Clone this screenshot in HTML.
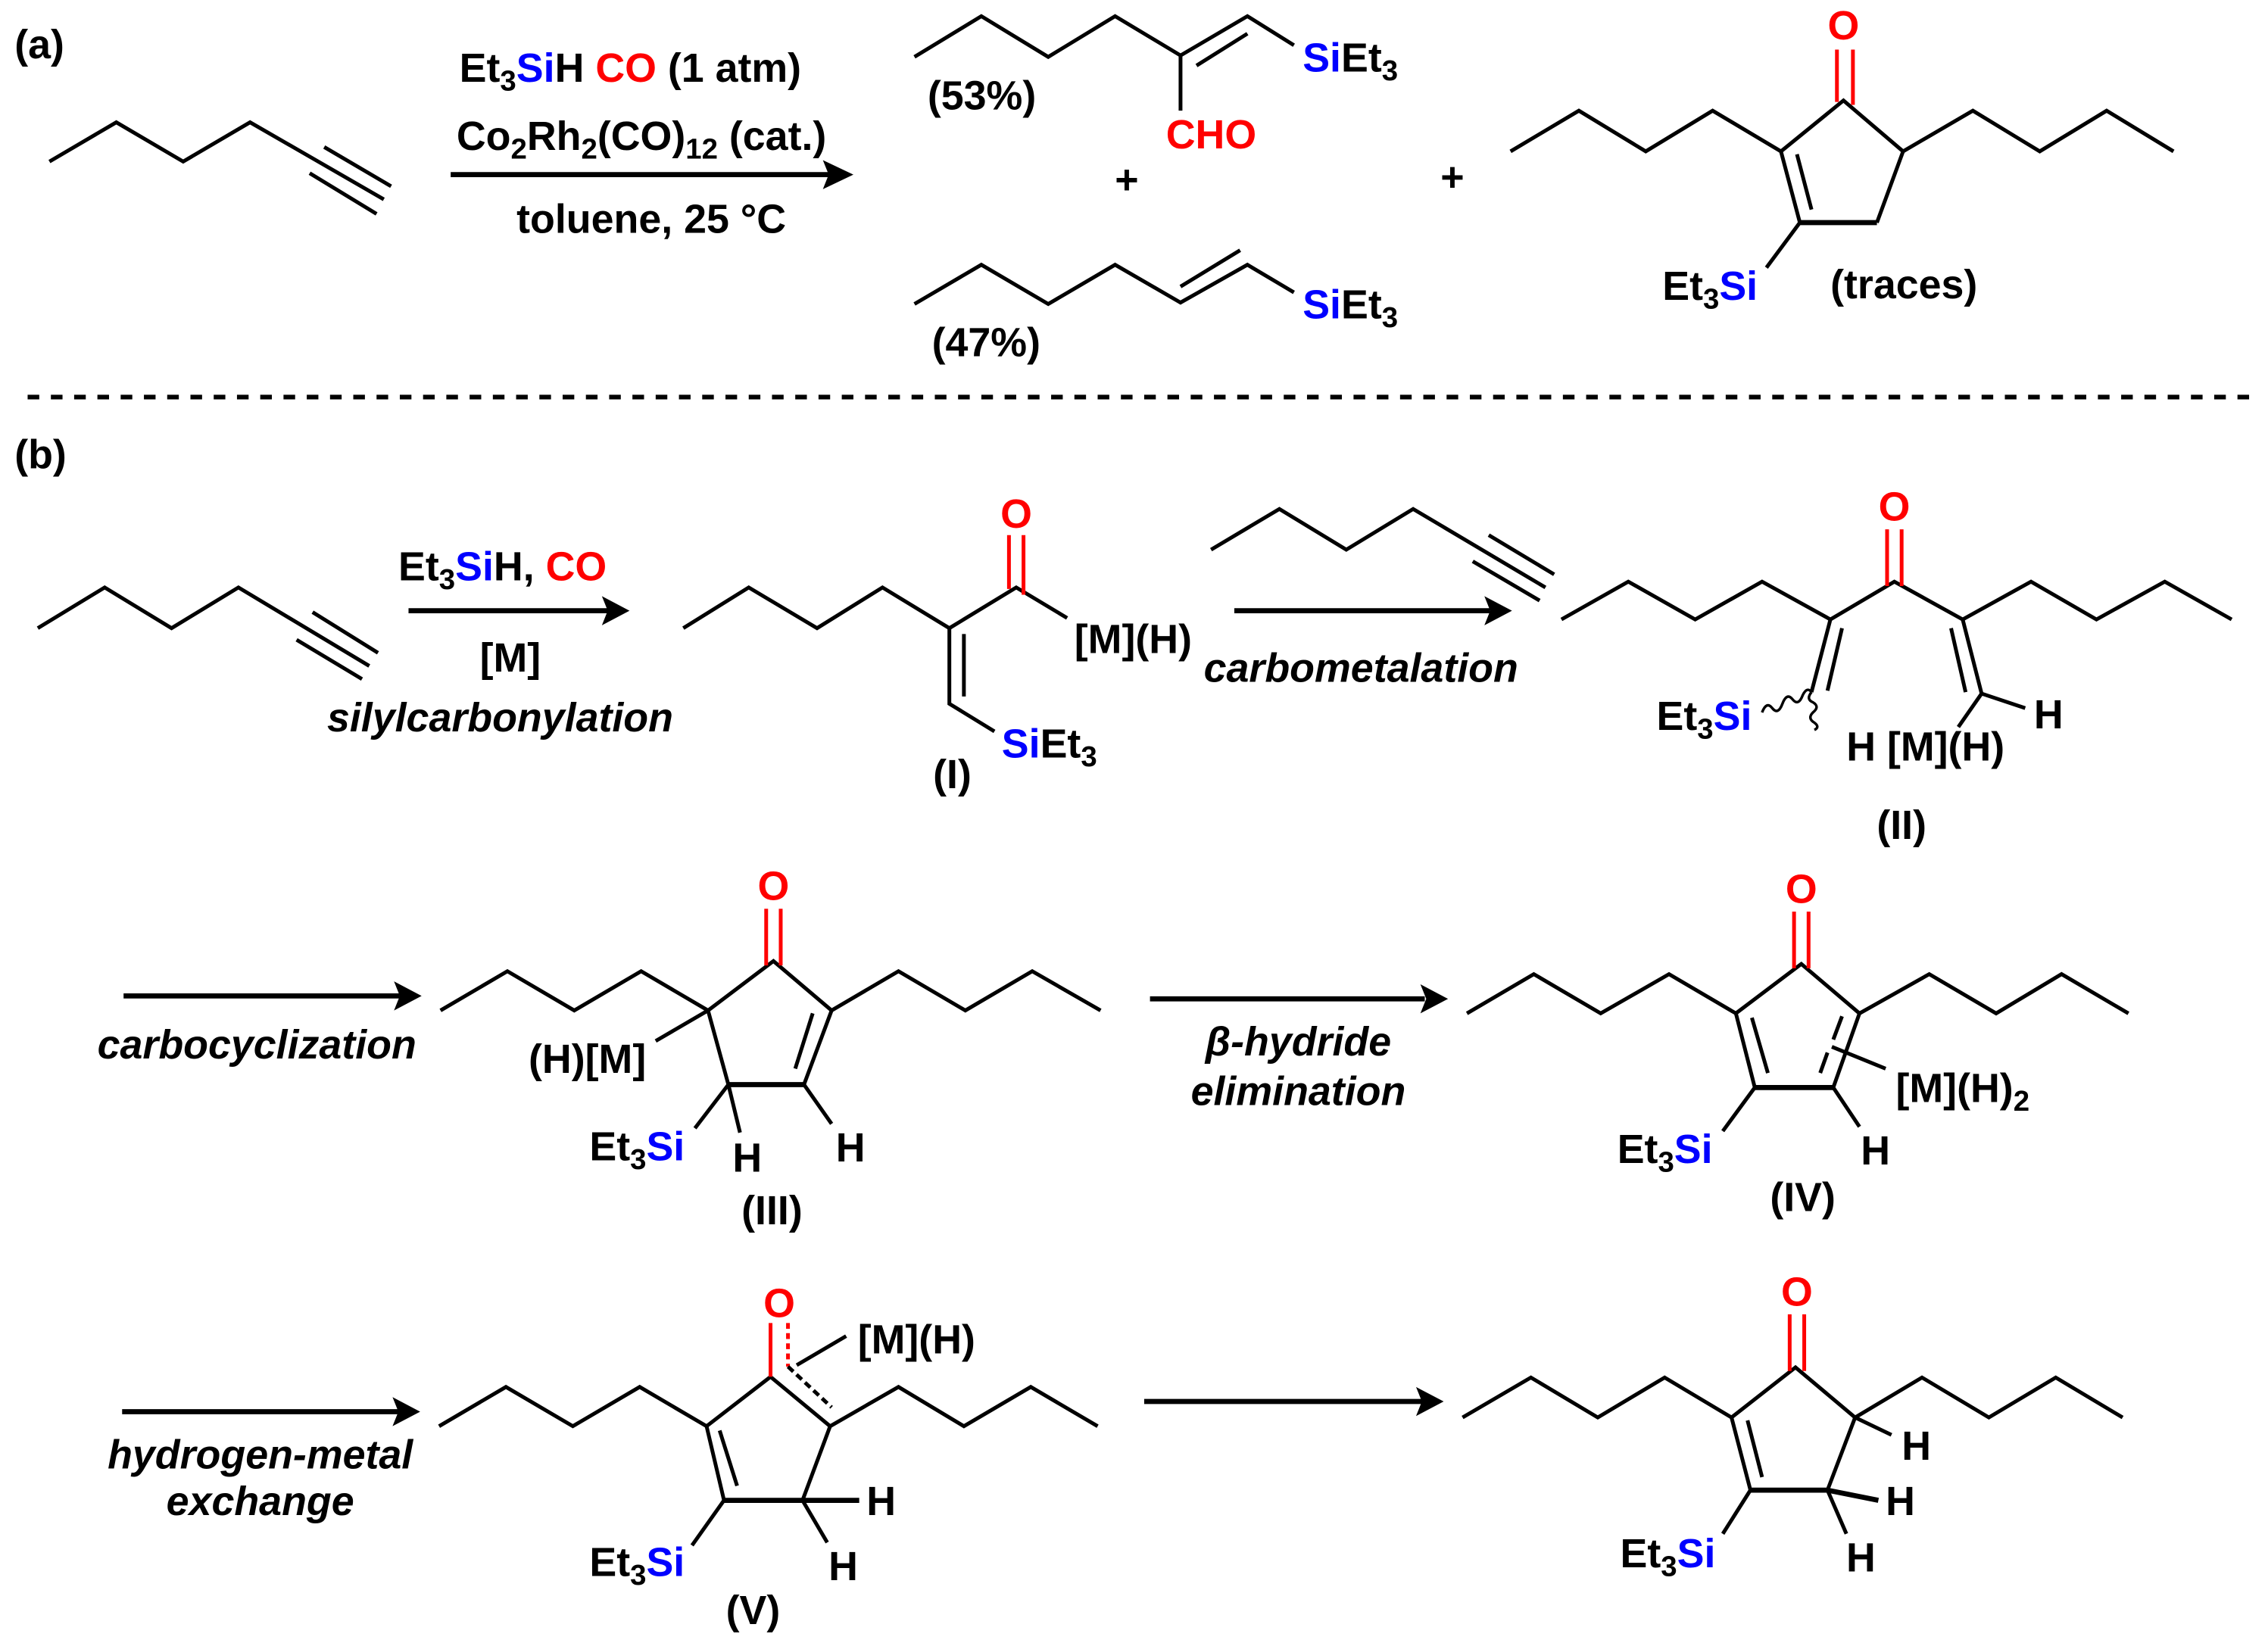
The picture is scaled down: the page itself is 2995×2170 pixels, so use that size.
<!DOCTYPE html>
<html><head><meta charset="utf-8"><style>
html,body{margin:0;padding:0;background:#fff;}
svg{display:block;}
text{font-family:"Liberation Sans",Arial,sans-serif;font-weight:bold;font-size:28px;fill:#000;}
.it{font-style:italic;}
.r{fill:#f00;}
.b{fill:#00f;}
</style></head><body>
<svg width="2995" height="2170" viewBox="0 0 1560 1130" xmlns="http://www.w3.org/2000/svg">
<g stroke="#000" stroke-width="2.6" fill="none" stroke-linecap="butt" stroke-linejoin="miter">
<polyline points="34,111 80,84 126,111 172,84 264,137"/>
<line x1="223" y1="101" x2="269" y2="128"/>
<line x1="213" y1="119" x2="259" y2="147"/>
<line x1="310" y1="120" x2="572" y2="120" stroke-width="3.5"/>
<polyline points="629,39 675,11 721,39 767,11 812,38 858,11 890,31"/>
<line x1="823" y1="45" x2="858" y2="23"/>
<line x1="812" y1="38" x2="812" y2="76"/>
<polyline points="629,209 675,182 721,209 767,182 812,208 858,182 890,201"/>
<line x1="812" y1="197" x2="853" y2="172"/>
<polyline points="1039,104 1086,76 1132,104 1178,76 1225,104 1268,69 1309,104 1357,76 1403,104 1449,76 1495,104"/>
<polyline points="1225,104 1238,153"/>
<line x1="1238" y1="153" x2="1291" y2="153" stroke-width="3.5"/>
<polyline points="1291,153 1309,104"/>
<line x1="1236" y1="106" x2="1246" y2="144"/>
<line x1="1238" y1="153" x2="1215" y2="184"/>
<line x1="1263.5" y1="34" x2="1263.5" y2="70" stroke="#f00"/>
<line x1="1274.5" y1="34" x2="1274.5" y2="72" stroke="#f00"/>
<line x1="19" y1="273" x2="1548" y2="273" stroke-width="3.2" stroke-dasharray="8,8"/>
<polyline points="26,432 72,404 118,432 164,404 254,458"/>
<line x1="215" y1="421" x2="260" y2="449"/>
<line x1="204" y1="440" x2="249" y2="467"/>
<line x1="281" y1="420" x2="418" y2="420" stroke-width="3.5"/>
<polyline points="470,432 515,404 562,432 607,404 653,432 699,404 734,425"/>
<polyline points="653,432 653,484 684,503"/>
<line x1="663" y1="436" x2="663" y2="479"/>
<line x1="694" y1="368" x2="694" y2="405" stroke="#f00"/>
<line x1="704" y1="368" x2="704" y2="409" stroke="#f00"/>
<line x1="849" y1="420" x2="1025" y2="420" stroke-width="3.5"/>
<polyline points="833,378 880,350 926,378 972,350 1063,404"/>
<line x1="1024" y1="368" x2="1069" y2="395"/>
<line x1="1013" y1="386" x2="1059" y2="413"/>
<polyline points="1074,426 1120,400 1166,426 1212,400 1259,426 1303,400 1350,426 1397,400 1442,426 1489,400 1535,426"/>
<line x1="1259" y1="426" x2="1246" y2="476"/>
<line x1="1267" y1="432" x2="1257" y2="475"/>
<line x1="1350" y1="426" x2="1363" y2="477"/>
<line x1="1342" y1="432" x2="1352" y2="476"/>
<polyline points="1393,487 1363,477 1347,500"/>
<line x1="1298" y1="364" x2="1298" y2="403" stroke="#f00"/>
<line x1="1308" y1="364" x2="1308" y2="403" stroke="#f00"/>
<path d="M1212,490 q3,-8 7,-3 q4,5 7,-3 q3,-8 7,-3 q4,5 7,-3 q3,-6 6,-2" stroke-width="1.8"/>
<path d="M1246,476 q-4,5 1,7 q5,3 0,7 q-4,4 1,7 q4,3 0,5" stroke-width="1.8"/>
<line x1="85" y1="685" x2="275" y2="685" stroke-width="3.5"/>
<polyline points="303,695 349,668 395,695 441,668 487,695 532,661 572,695 618,668 664,695 710,668 757,695"/>
<line x1="487" y1="695" x2="501" y2="746"/>
<line x1="501" y1="746" x2="553" y2="746" stroke-width="3.5"/>
<line x1="553" y1="746" x2="572" y2="695"/>
<line x1="559" y1="697" x2="547" y2="735"/>
<line x1="487" y1="695" x2="451" y2="716"/>
<line x1="501" y1="746" x2="478" y2="776"/>
<line x1="501" y1="746" x2="509" y2="779"/>
<line x1="553" y1="746" x2="572" y2="773"/>
<line x1="527" y1="625" x2="527" y2="664" stroke="#f00"/>
<line x1="537" y1="625" x2="537" y2="664" stroke="#f00"/>
<line x1="791" y1="687" x2="980" y2="687" stroke-width="3.5"/>
<polyline points="1009,697 1055,670 1101,697 1148,670 1194,697 1239,663 1279,697 1327,670 1373,697 1418,670 1464,697"/>
<line x1="1194" y1="697" x2="1207" y2="748"/>
<line x1="1205" y1="700" x2="1216" y2="738"/>
<line x1="1207" y1="748" x2="1261" y2="748" stroke-width="3.5"/>
<line x1="1261" y1="748" x2="1279" y2="697"/>
<line x1="1267" y1="699" x2="1261" y2="715"/>
<line x1="1257" y1="724" x2="1252" y2="738"/>
<line x1="1260" y1="720" x2="1297" y2="735"/>
<line x1="1207" y1="748" x2="1185" y2="778"/>
<line x1="1261" y1="748" x2="1279" y2="775"/>
<line x1="1234" y1="627" x2="1234" y2="666" stroke="#f00"/>
<line x1="1244" y1="627" x2="1244" y2="666" stroke="#f00"/>
<line x1="84" y1="971" x2="274" y2="971" stroke-width="3.5"/>
<polyline points="302,981 348,954 394,981 440,954 486,981 530,947 571,981 618,954 663,981 709,954 755,981"/>
<line x1="486" y1="981" x2="498" y2="1032"/>
<line x1="495" y1="984" x2="507" y2="1022"/>
<line x1="498" y1="1032" x2="591" y2="1032" stroke-width="3.5"/>
<line x1="552" y1="1032" x2="571" y2="981"/>
<line x1="552" y1="1032" x2="569" y2="1061"/>
<line x1="498" y1="1032" x2="476" y2="1063"/>
<line x1="530" y1="910" x2="530" y2="947" stroke="#f00"/>
<line x1="542" y1="910" x2="542" y2="940" stroke="#f00" stroke-dasharray="4,3"/>
<line x1="542" y1="940" x2="572" y2="968" stroke-dasharray="5,3"/>
<line x1="548" y1="939" x2="582" y2="919"/>
<line x1="787" y1="964" x2="980" y2="964" stroke-width="3.5"/>
<polyline points="1006,975 1053,947.5 1099,975 1145,947.5 1191,975 1235,940.5 1276,975 1322,947.5 1368,975 1414,947.5 1460,975"/>
<line x1="1191" y1="975" x2="1204" y2="1025"/>
<line x1="1202" y1="977" x2="1212" y2="1016"/>
<line x1="1204" y1="1025" x2="1257" y2="1025" stroke-width="3.5"/>
<line x1="1257" y1="1025" x2="1276" y2="975"/>
<line x1="1276" y1="975" x2="1301" y2="987"/>
<line x1="1257" y1="1025" x2="1292" y2="1032" stroke-width="3.5"/>
<line x1="1257" y1="1025" x2="1270" y2="1055"/>
<line x1="1204" y1="1025" x2="1185" y2="1055"/>
<line x1="1231" y1="904" x2="1231" y2="943" stroke="#f00"/>
<line x1="1241" y1="904" x2="1241" y2="943" stroke="#f00"/>
</g>
<g fill="#000">
<polygon points="587,120 566,110 570,120 566,130"/>
<polygon points="433,420 414,410 418,420 414,430"/>
<polygon points="1040,420 1021,410 1025,420 1021,430"/>
<polygon points="290,685 271,675 275,685 271,695"/>
<polygon points="996,687 977,677 981,687 977,697"/>
<polygon points="289,971 270,961 274,971 270,981"/>
<polygon points="993,964 974,954 978,964 974,974"/>
</g>
<text x="10" y="40">(a)</text>
<text x="316" y="56">Et<tspan font-size="20" dy="6">3</tspan><tspan dy="-6" class="b">Si</tspan>H <tspan class="r">CO</tspan> (1 atm)</text>
<text x="314" y="103">Co<tspan font-size="20" dy="6">2</tspan><tspan dy="-6">Rh</tspan><tspan font-size="20" dy="6">2</tspan><tspan dy="-6">(CO)</tspan><tspan font-size="20" dy="6">12</tspan><tspan dy="-6"> (cat.)</tspan></text>
<text x="448" y="160" text-anchor="middle">toluene, 25 °C</text>
<text x="638" y="75">(53%)</text>
<text x="641" y="245">(47%)</text>
<text x="896" y="49"><tspan class="b">Si</tspan>Et<tspan font-size="20" dy="6">3</tspan></text>
<text x="896" y="219"><tspan class="b">Si</tspan>Et<tspan font-size="20" dy="6">3</tspan></text>
<text x="802" y="102" class="r">CHO</text>
<text x="775" y="133" text-anchor="middle">+</text>
<text x="999" y="131" text-anchor="middle">+</text>
<text x="1268" y="27" text-anchor="middle" class="r">O</text>
<text x="1209" y="206" text-anchor="end">Et<tspan font-size="20" dy="6">3</tspan><tspan dy="-6" class="b">Si</tspan></text>
<text x="1259" y="205">(traces)</text>
<text x="10" y="322">(b)</text>
<text x="274" y="399">Et<tspan font-size="20" dy="6">3</tspan><tspan dy="-6" class="b">Si</tspan>H, <tspan class="r">CO</tspan></text>
<text x="351" y="462" text-anchor="middle">[M]</text>
<text x="225" y="503" class="it">silylcarbonylation</text>
<text x="699" y="363" text-anchor="middle" class="r">O</text>
<text x="739" y="449">[M](H)</text>
<text x="689" y="521"><tspan class="b">Si</tspan>Et<tspan font-size="20" dy="6">3</tspan></text>
<text x="655" y="542" text-anchor="middle">(I)</text>
<text x="828" y="469" class="it">carbometalation</text>
<text x="1303" y="358" text-anchor="middle" class="r">O</text>
<text x="1205" y="502" text-anchor="end">Et<tspan font-size="20" dy="6">3</tspan><tspan dy="-6" class="b">Si</tspan></text>
<text x="1399" y="501">H</text>
<text x="1270" y="523">H [M](H)</text>
<text x="1308" y="577" text-anchor="middle">(II)</text>
<text x="67" y="728" class="it">carbocyclization</text>
<text x="532" y="619" text-anchor="middle" class="r">O</text>
<text x="404" y="738" text-anchor="middle">(H)[M]</text>
<text x="471" y="798" text-anchor="end">Et<tspan font-size="20" dy="6">3</tspan><tspan dy="-6" class="b">Si</tspan></text>
<text x="514" y="806" text-anchor="middle">H</text>
<text x="585" y="799" text-anchor="middle">H</text>
<text x="531" y="842" text-anchor="middle">(III)</text>
<text x="893" y="726" text-anchor="middle" class="it">β-hydride</text>
<text x="893" y="760" text-anchor="middle" class="it">elimination</text>
<text x="1239" y="621" text-anchor="middle" class="r">O</text>
<text x="1304" y="758">[M](H)<tspan font-size="20" dy="6">2</tspan></text>
<text x="1178" y="800" text-anchor="end">Et<tspan font-size="20" dy="6">3</tspan><tspan dy="-6" class="b">Si</tspan></text>
<text x="1290" y="801" text-anchor="middle">H</text>
<text x="1240" y="833" text-anchor="middle">(IV)</text>
<text x="179" y="1010" text-anchor="middle" class="it">hydrogen-metal</text>
<text x="179" y="1042" text-anchor="middle" class="it">exchange</text>
<text x="536" y="906" text-anchor="middle" class="r">O</text>
<text x="590" y="931">[M](H)</text>
<text x="596" y="1042">H</text>
<text x="580" y="1087" text-anchor="middle">H</text>
<text x="471" y="1084" text-anchor="end">Et<tspan font-size="20" dy="6">3</tspan><tspan dy="-6" class="b">Si</tspan></text>
<text x="518" y="1117" text-anchor="middle">(V)</text>
<text x="1236" y="898" text-anchor="middle" class="r">O</text>
<text x="1308" y="1004">H</text>
<text x="1297" y="1042">H</text>
<text x="1280" y="1081" text-anchor="middle">H</text>
<text x="1180" y="1078" text-anchor="end">Et<tspan font-size="20" dy="6">3</tspan><tspan dy="-6" class="b">Si</tspan></text>
</svg>
</body></html>
